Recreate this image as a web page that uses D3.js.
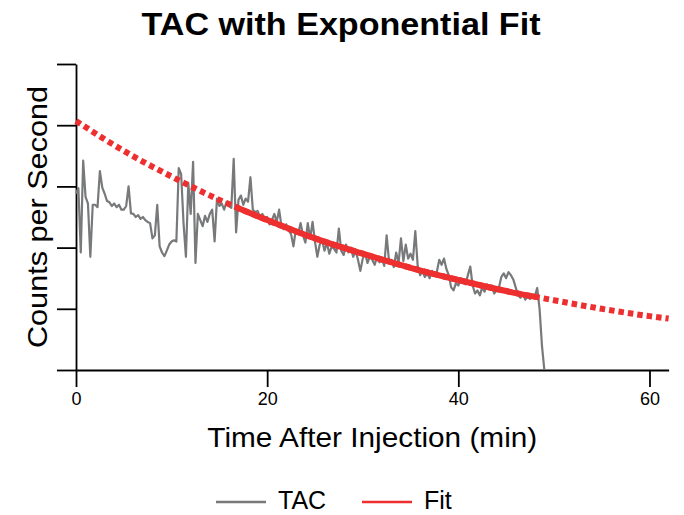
<!DOCTYPE html>
<html>
<head>
<meta charset="utf-8">
<script src="https://cdn.jsdelivr.net/npm/d3@7"></script>
<style>
  body { margin: 0; background: white; }
  svg { display: block; font-family: "Liberation Sans", Arial, sans-serif; }
</style>
</head>
<body>
<svg></svg>
<script>
// TAC samples, one every 0.25 min starting at t = 0
const tacStart = 0;
const tacStep = 0.25;
const tacValues = [
  2.88, 2.97, 1.92, 3.42,  2.83, 2.72, 1.85, 2.70,  2.70, 2.66, 3.25, 2.98,
  2.88, 2.76, 2.74, 2.68,  2.72, 2.66, 2.70, 2.62,  2.62, 2.68, 3.00, 2.56,
  2.55, 2.50, 2.53, 2.47,  2.50, 2.45, 2.42, 2.40,  2.15, 2.20, 2.70, 2.02,
  1.92, 1.86, 1.95, 2.05,  2.10, 2.12, 2.10, 3.30,  3.20, 2.40, 1.85, 3.05,
  2.55, 3.40, 1.75, 2.55,  2.45, 2.35, 2.52, 2.42,  2.55, 2.62, 2.10, 2.80,
  2.68, 2.72, 2.62, 2.75,  2.68, 2.65, 3.45, 2.25,  2.78, 2.85, 2.70, 2.80,
  2.75, 3.15, 2.62, 2.58,  2.60, 2.50, 2.55, 2.45,  2.50, 2.38, 2.45, 2.55,
  2.42, 2.62, 2.35, 2.30,  2.38, 2.28, 2.22, 2.02,  2.30, 2.24, 2.40, 2.20,
  2.08, 2.40, 2.15, 2.42,  2.10, 1.85, 2.05, 2.12,  1.95, 2.08, 1.90, 2.02,
  1.98, 1.92, 2.31, 1.95,  1.88, 2.05, 1.92, 2.00,  1.85, 1.95, 1.80, 1.62,
  1.82, 1.90, 1.75, 1.86,  1.80, 1.72, 1.85, 1.76,  1.82, 1.70, 2.20, 1.78,
  1.80, 1.68, 1.92, 1.75,  2.15, 1.78, 2.05, 1.82,  1.90, 1.80, 2.27, 1.70,
  1.55, 1.62, 1.52, 1.58,  1.50, 1.62, 1.55, 1.60,  1.80, 1.72, 1.82, 1.65,
  1.55, 1.35, 1.30, 1.42,  1.38, 1.50, 1.45, 1.40,  1.55, 1.69, 1.38, 1.25,
  1.30, 1.22, 1.35, 1.28,  1.40, 1.32, 1.38, 1.25,  1.30, 1.35, 1.52, 1.58,
  1.50, 1.60, 1.55, 1.48,  1.35, 1.22, 1.18, 1.25,  1.15, 1.20, 1.16, 1.22,
  1.20, 1.34, 1.00, 0.40,  0.00
];

// exponential fit
const fitTimes = [0, 5, 10, 15, 20, 25, 30, 35, 40, 45, 50, 55, 60, 62];
const fitValues = [4.07, 3.58, 3.16, 2.78, 2.45, 2.15, 1.90, 1.67, 1.47, 1.29, 1.14, 1.00, 0.88, 0.84];
const fitSolidRange = [16.7, 48.1];

const xTicks = [0, 20, 40, 60];
const yTicks = [0, 1, 2, 3, 4, 5];
const legendNames = ["TAC", "Fit"];

const tacColor = "#77797b";
const fitColor = "#ee2f2f";

const W = 684, H = 515;
const margin = { top: 64, right: 15.4, bottom: 145, left: 76 };
const width = W - margin.left - margin.right;
const height = H - margin.top - margin.bottom;

const svg = d3.select("svg")
  .attr("width", W)
  .attr("height", H);

const chart = svg.append("g")
  .attr("transform", `translate(${margin.left},${margin.top})`);

const x = d3.scaleLinear().domain([0, 62]).range([0, width]);
const y = d3.scaleLinear().domain([0, 5]).range([height, 0]);

const tac = tacValues.map((v, i) => ({ t: tacStart + i * tacStep, v }));
const fit = fitTimes.map((t, i) => ({ t, v: fitValues[i] }));

// axes
const xAxis = chart.append("g")
  .attr("transform", `translate(0,${height})`)
  .call(d3.axisBottom(x).tickValues(xTicks).tickSize(17).tickSizeOuter(0).tickPadding(5));

const yAxis = chart.append("g")
  .call(d3.axisLeft(y).tickValues(yTicks).tickSize(19).tickSizeOuter(0).tickFormat(""));

[xAxis, yAxis].forEach(a => {
  a.select(".domain").attr("stroke", "#000").attr("stroke-width", 1.8);
  a.selectAll(".tick line").attr("stroke", "#000").attr("stroke-width", 1.8);
});
xAxis.selectAll("text")
  .attr("fill", "#000")
  .style("font-size", "18px")
  .style("font-family", "Liberation Sans, Arial, sans-serif");

// TAC trace
const tacLine = d3.line().x(d => x(d.t)).y(d => y(d.v));
chart.append("path")
  .datum(tac)
  .attr("fill", "none")
  .attr("stroke", tacColor)
  .attr("stroke-width", 2.2)
  .attr("stroke-linejoin", "round")
  .attr("d", tacLine);

// fit: dotted over the whole range, solid where it was fitted
const fitLine = d3.line().x(d => x(d.t)).y(d => y(d.v)).curve(d3.curveMonotoneX);
chart.append("path")
  .datum(fit)
  .attr("fill", "none")
  .attr("stroke", fitColor)
  .attr("stroke-width", 6)
  .attr("stroke-dasharray", "5.5,4")
  .attr("d", fitLine);

chart.append("clipPath")
  .attr("id", "solidClip")
  .append("rect")
  .attr("x", x(fitSolidRange[0]))
  .attr("y", 0)
  .attr("width", x(fitSolidRange[1]) - x(fitSolidRange[0]))
  .attr("height", height);

chart.append("path")
  .datum(fit)
  .attr("fill", "none")
  .attr("stroke", fitColor)
  .attr("stroke-width", 6)
  .attr("clip-path", "url(#solidClip)")
  .attr("d", fitLine);

// titles
svg.append("text")
  .attr("x", 341)
  .attr("y", 35)
  .attr("text-anchor", "middle")
  .attr("textLength", 399)
  .attr("lengthAdjust", "spacingAndGlyphs")
  .style("font-size", "31px")
  .style("font-weight", "bold")
  .text("TAC with Exponential Fit");

svg.append("text")
  .attr("x", margin.left + width / 2)
  .attr("y", 447)
  .attr("text-anchor", "middle")
  .attr("textLength", 330)
  .attr("lengthAdjust", "spacingAndGlyphs")
  .style("font-size", "28px")
  .text("Time After Injection (min)");

svg.append("text")
  .attr("transform", "rotate(-90)")
  .attr("x", -(margin.top + height / 2))
  .attr("y", 47)
  .attr("text-anchor", "middle")
  .attr("textLength", 262)
  .attr("lengthAdjust", "spacingAndGlyphs")
  .style("font-size", "28px")
  .text("Counts per Second");

// legend
const legend = svg.append("g").attr("transform", "translate(216,502)");
const legendColors = [tacColor, fitColor];
const legendOffsets = [0, 146];
legendNames.forEach((name, i) => {
  const row = legend.append("g").attr("transform", `translate(${legendOffsets[i]},0)`);
  row.append("line")
    .attr("x1", 0).attr("x2", 50)
    .attr("stroke", legendColors[i])
    .attr("stroke-width", 2.5);
  row.append("text")
    .attr("x", 62)
    .attr("y", 7)
    .style("font-size", "25px")
    .text(name);
});
</script>
</body>
</html>
